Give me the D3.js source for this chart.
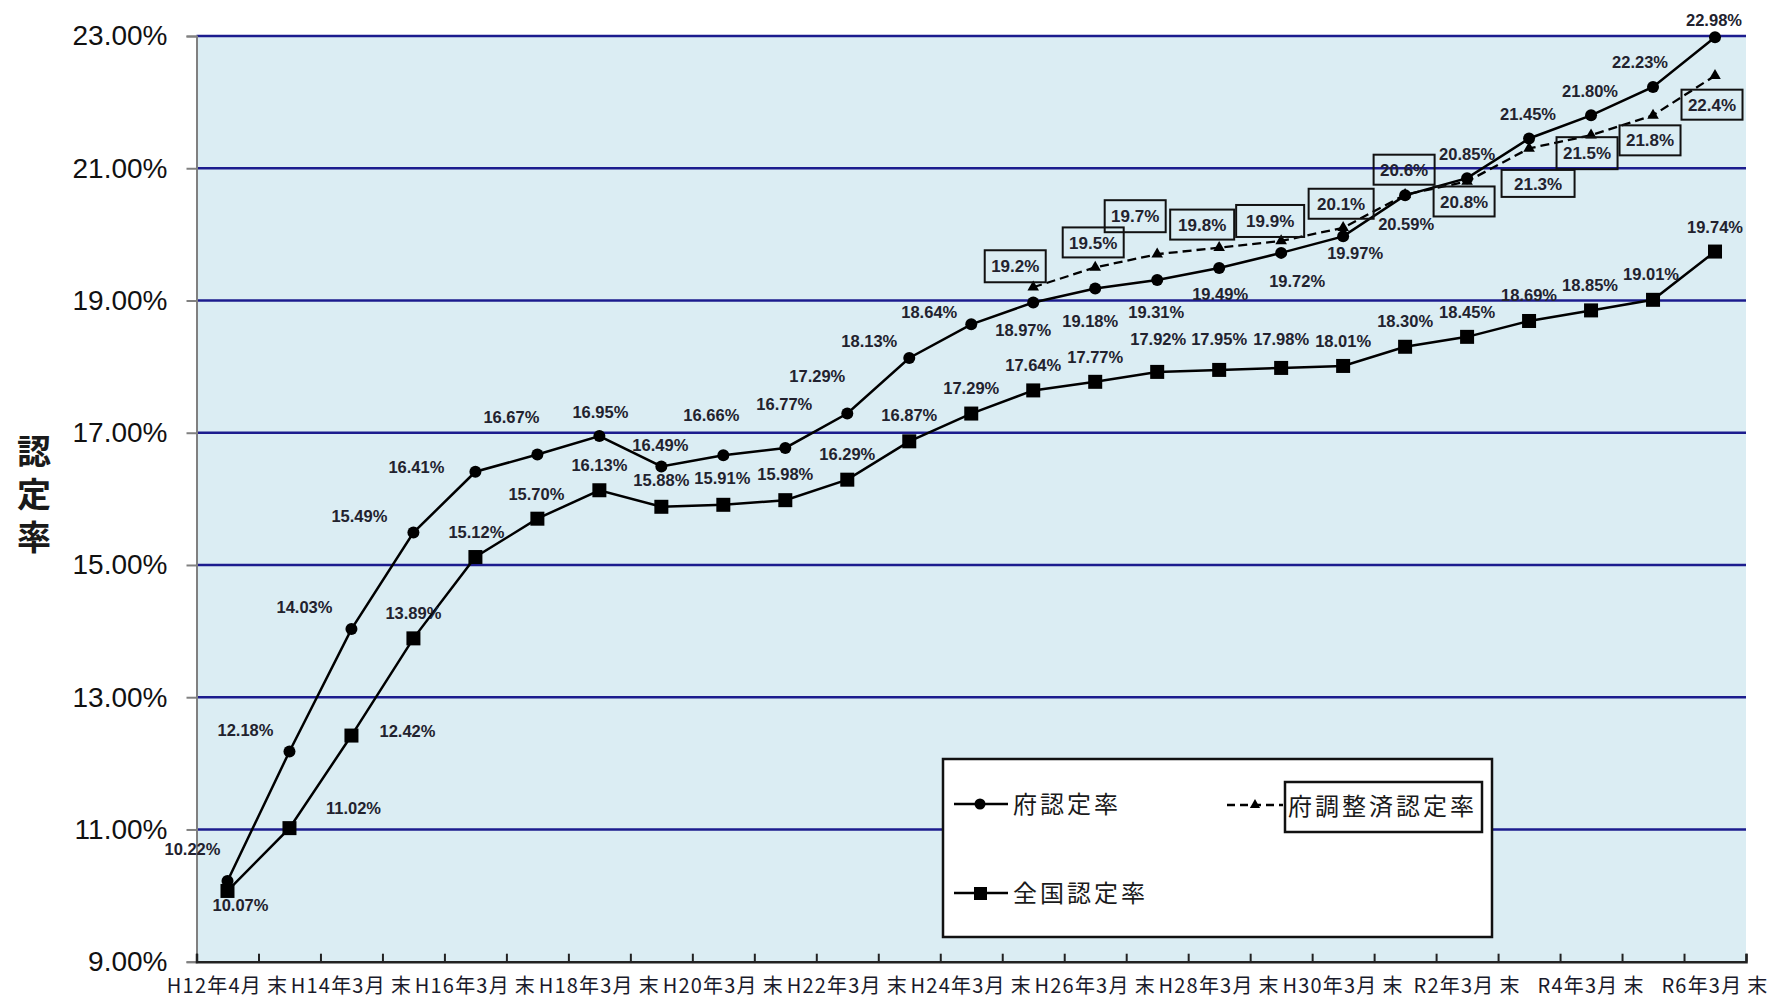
<!DOCTYPE html>
<html>
<head>
<meta charset="utf-8">
<script src="https://cdn.jsdelivr.net/npm/d3@7"></script>
<style>
  html, body { margin: 0; padding: 0; background: #ffffff; }
  svg { display: block; }
</style>
</head>
<body>
<svg id="chart" width="1772" height="999"></svg>
<script>
// ---- data ----
const categories = [
  "H12年4月末", "H13年3月末", "H14年3月末", "H15年3月末", "H16年3月末",
  "H17年3月末", "H18年3月末", "H19年3月末", "H20年3月末", "H21年3月末",
  "H22年3月末", "H23年3月末", "H24年3月末", "H25年3月末", "H26年3月末",
  "H27年3月末", "H28年3月末", "H29年3月末", "H30年3月末", "H31年3月末",
  "R2年3月末", "R3年3月末", "R4年3月末", "R5年3月末", "R6年3月末"
];

// 府認定率 (%)
const prefRate = [10.22, 12.18, 14.03, 15.49, 16.41, 16.67, 16.95, 16.49, 16.66, 16.77,
                  17.29, 18.13, 18.64, 18.97, 19.18, 19.31, 19.49, 19.72, 19.97, 20.59,
                  20.85, 21.45, 21.80, 22.23, 22.98];

// 全国認定率 (%)
const nationalRate = [10.07, 11.02, 12.42, 13.89, 15.12, 15.70, 16.13, 15.88, 15.91, 15.98,
                      16.29, 16.87, 17.29, 17.64, 17.77, 17.92, 17.95, 17.98, 18.01, 18.30,
                      18.45, 18.69, 18.85, 19.01, 19.74];

// 府調整済認定率 (%), starting at H25年3月末
const adjustedStart = 13;
const adjustedRate = [19.2, 19.5, 19.7, 19.8, 19.9, 20.1, 20.6, 20.8, 21.3, 21.5, 21.8, 22.4];

const yTicks = [9, 11, 13, 15, 17, 19, 21, 23];
const xLabelEvery = 2;

const seriesNames = ["府認定率", "府調整済認定率", "全国認定率"];
const axisTitle = "認定率";

// ---- label placement (offsets from each point, in px) ----
const prefLabelOffset = [
  [-35, -32], [-44, -21], [-47, -22], [-54, -17], [-59, -5], [-26, -37], [1, -24],
  [-1, -21], [-12, -40], [-1, -44], [-30, -37], [-40, -17], [-42, -12], [-10, 28],
  [-5, 32], [-1, 32], [1, 26], [16, 28], [12, 17], [1, 29], [0, -24], [-1, -24],
  [-1, -24], [-13, -25], [-1, -17]
];
const nationalLabelOffset = [
  [13, 14], [64, -20], [56, -5], [0, -25], [1, -25], [-1, -25], [0, -25],
  [0, -27], [-1, -27], [0, -26], [0, -26], [0, -26], [0, -25], [0, -25],
  [0, -25], [1, -33], [0, -31], [0, -29], [0, -25], [0, -26], [0, -25],
  [0, -26], [-1, -25], [-2, -26], [0, -24]
];
// [dx, dy, box width, box height]
const adjustedLabelLayout = [
  [-18, -21, 61, 32], [-2, -25, 61, 30], [-22, -38, 61, 32], [-17, -23, 64, 30],
  [-11, -20, 68, 32], [-2, -24, 65, 30], [-1, -25, 61, 30], [-3, 20, 61, 30],
  [9, 35, 73, 27], [-4, 18, 61, 32], [-3, 25, 61, 30], [-3, 29, 61, 30]
];

// ---- layout ----
const plot = { left: 196.5, right: 1746, top: 36, bottom: 961.7 };
const latin = "'Liberation Sans', Arial, sans-serif";
const cjk = "'Noto Sans CJK JP', 'Noto Sans CJK SC', sans-serif";

const svg = d3.select("#chart");

const x = d3.scaleBand().domain(d3.range(categories.length))
  .range([plot.left, plot.right]).padding(0);
const xc = i => x(i) + x.bandwidth() / 2;
const xEdge = d3.scaleLinear().domain([0, categories.length]).range([plot.left, plot.right]);
const y = d3.scaleLinear().domain([9, 23]).range([plot.bottom, plot.top]);

// plot background
svg.append("rect")
  .attr("x", plot.left).attr("y", plot.top)
  .attr("width", plot.right - plot.left).attr("height", plot.bottom - plot.top)
  .attr("fill", "#dbedf3");

// horizontal gridlines
svg.append("g").selectAll("line")
  .data(yTicks.filter(v => v > 9))
  .join("line")
  .attr("x1", plot.left).attr("x2", plot.right)
  .attr("y1", d => y(d)).attr("y2", d => y(d))
  .attr("stroke", "#1c1c8e").attr("stroke-width", 2.5);

// y axis
const yAxis = svg.append("g")
  .attr("transform", `translate(${plot.left},0)`)
  .call(d3.axisLeft(y).tickValues(yTicks).tickSize(10).tickPadding(19)
    .tickFormat(d => d.toFixed(2) + "%"));
yAxis.select(".domain").attr("stroke", "#808080").attr("stroke-width", 2);
yAxis.selectAll(".tick line").attr("stroke", "#808080").attr("stroke-width", 2);
yAxis.selectAll(".tick text")
  .attr("font-family", latin).attr("font-size", 28).attr("fill", "#111");

// x axis: ticks at category boundaries, pointing up into the plot
const xAxis = svg.append("g")
  .attr("transform", `translate(0,${plot.bottom})`)
  .call(d3.axisBottom(xEdge).tickValues(d3.range(categories.length + 1))
    .tickSize(-8).tickFormat(""));
xAxis.select(".domain").attr("stroke", "#222").attr("stroke-width", 2.5);
xAxis.selectAll(".tick line").attr("stroke", "#222").attr("stroke-width", 2);

// x labels (every other category)
const xLab = svg.append("g").selectAll("text")
  .data(categories.map((c, i) => ({ c, i })).filter(d => d.i % xLabelEvery === 0))
  .join("text")
  .attr("x", d => xc(d.i)).attr("y", 993)
  .attr("text-anchor", "middle")
  .attr("font-family", cjk).attr("font-size", 20).attr("fill", "#1a1a2a")
  .attr("letter-spacing", 1.2);
xLab.append("tspan").text(d => d.c.slice(0, -1));
xLab.append("tspan").attr("dx", 5).text(d => d.c.slice(-1));

// y axis title, set vertically
svg.append("text")
  .attr("x", 34).attr("y", 499)
  .attr("writing-mode", "vertical-rl")
  .attr("text-anchor", "middle")
  .attr("font-family", cjk).attr("font-size", 34).attr("font-weight", "bold")
  .attr("letter-spacing", 9)
  .attr("fill", "#1a1a1a")
  .text(axisTitle);

// ---- series lines ----
const line = d3.line().x(d => xc(d.i)).y(d => y(d.v));
const prefPts = prefRate.map((v, i) => ({ i, v }));
const natPts = nationalRate.map((v, i) => ({ i, v }));
const adjPts = adjustedRate.map((v, k) => ({ i: adjustedStart + k, v }));

svg.append("path").datum(natPts).attr("d", line)
  .attr("fill", "none").attr("stroke", "#000").attr("stroke-width", 2.5);
svg.append("path").datum(adjPts).attr("d", line)
  .attr("fill", "none").attr("stroke", "#000").attr("stroke-width", 2.3)
  .attr("stroke-dasharray", "9,5");
svg.append("path").datum(prefPts).attr("d", line)
  .attr("fill", "none").attr("stroke", "#000").attr("stroke-width", 2.5);

// markers
const sq = 14;
svg.append("g").selectAll("rect").data(natPts).join("rect")
  .attr("x", d => xc(d.i) - sq / 2).attr("y", d => y(d.v) - sq / 2)
  .attr("width", sq).attr("height", sq).attr("fill", "#000");
const tri = d3.symbol().type(d3.symbolTriangle).size(58);
svg.append("g").selectAll("path").data(adjPts).join("path")
  .attr("d", tri).attr("transform", d => `translate(${xc(d.i)},${y(d.v)})`)
  .attr("fill", "#000");
svg.append("g").selectAll("circle").data(prefPts).join("circle")
  .attr("cx", d => xc(d.i)).attr("cy", d => y(d.v)).attr("r", 6).attr("fill", "#000");

// ---- value labels ----
function valueLabels(points, offsets, digits) {
  svg.append("g").selectAll("text").data(points).join("text")
    .attr("x", (d, k) => xc(d.i) + offsets[k][0])
    .attr("y", (d, k) => y(d.v) + offsets[k][1])
    .attr("dy", "0.36em")
    .attr("text-anchor", "middle")
    .attr("font-family", latin).attr("font-size", 16.5).attr("font-weight", "bold")
    .attr("fill", "#22222e")
    .text(d => d.v.toFixed(digits) + "%");
}
valueLabels(prefPts, prefLabelOffset, 2);
valueLabels(natPts, nationalLabelOffset, 2);

// boxed labels for the adjusted series
const adjLab = svg.append("g").selectAll("g").data(adjPts).join("g")
  .attr("transform", (d, k) =>
    `translate(${xc(d.i) + adjustedLabelLayout[k][0]},${y(d.v) + adjustedLabelLayout[k][1]})`);
adjLab.append("rect")
  .attr("x", (d, k) => -adjustedLabelLayout[k][2] / 2)
  .attr("y", (d, k) => -adjustedLabelLayout[k][3] / 2)
  .attr("width", (d, k) => adjustedLabelLayout[k][2])
  .attr("height", (d, k) => adjustedLabelLayout[k][3])
  .attr("fill", "none").attr("stroke", "#111").attr("stroke-width", 2);
adjLab.append("text")
  .attr("text-anchor", "middle").attr("dy", "0.36em")
  .attr("font-family", latin).attr("font-size", 17).attr("font-weight", "bold")
  .attr("fill", "#22222e")
  .text(d => d.v.toFixed(1) + "%");

// ---- legend ----
const lg = svg.append("g");
lg.append("rect").attr("x", 943).attr("y", 759).attr("width", 549).attr("height", 178)
  .attr("fill", "#fff").attr("stroke", "#111").attr("stroke-width", 2.5);

function legendText(x0, y0, t) {
  lg.append("text").attr("x", x0).attr("y", y0).attr("dy", "0.36em")
    .attr("font-family", cjk).attr("font-size", 24).attr("letter-spacing", 3)
    .attr("fill", "#1a1a1a").text(t);
}
// 府認定率
lg.append("line").attr("x1", 954).attr("x2", 1008).attr("y1", 804).attr("y2", 804)
  .attr("stroke", "#000").attr("stroke-width", 2.5);
lg.append("circle").attr("cx", 980).attr("cy", 804).attr("r", 5.5).attr("fill", "#000");
legendText(1013, 804, seriesNames[0]);
// 全国認定率
lg.append("line").attr("x1", 954).attr("x2", 1008).attr("y1", 893).attr("y2", 893)
  .attr("stroke", "#000").attr("stroke-width", 2.5);
lg.append("rect").attr("x", 974).attr("y", 887).attr("width", 13).attr("height", 13).attr("fill", "#000");
legendText(1013, 893, seriesNames[2]);
// 府調整済認定率
lg.append("line").attr("x1", 1227).attr("x2", 1283).attr("y1", 805).attr("y2", 805)
  .attr("stroke", "#000").attr("stroke-width", 2.5).attr("stroke-dasharray", "8,5");
lg.append("path").attr("d", d3.symbol().type(d3.symbolTriangle).size(45))
  .attr("transform", "translate(1255,805)").attr("fill", "#000");
lg.append("rect").attr("x", 1285).attr("y", 782).attr("width", 197).attr("height", 50)
  .attr("fill", "none").attr("stroke", "#111").attr("stroke-width", 2.5);
legendText(1288, 806, seriesNames[1]);
</script>
</body>
</html>
